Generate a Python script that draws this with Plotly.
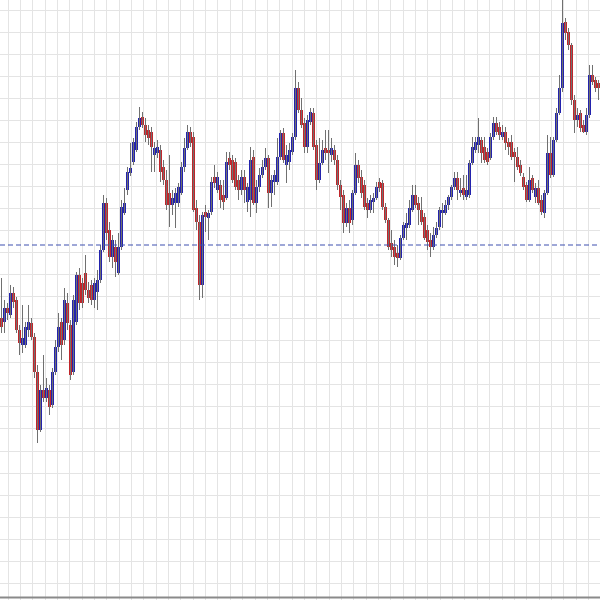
import plotly.graph_objects as go

# Candle data (price units), one entry per bar, left to right
opens = [282,278,292,285,307,300,270,255,255,270,277,263,228,170,210,202,210,195,228,253,
         278,260,297,275,228,278,325,317,327,310,315,300,308,320,350,397,370,343,353,327,
         353,387,410,427,438,450,473,483,475,470,468,445,447,450,433,420,407,395,397,397,
         407,433,452,468,463,392,378,315,388,382,388,423,410,415,405,402,442,440,438,420,
         410,423,398,400,443,397,413,425,433,442,407,418,418,443,467,435,438,448,463,512,
         490,477,453,478,487,455,420,437,452,450,445,450,440,415,405,377,392,380,407,435,
         423,415,397,390,398,402,418,417,393,380,357,353,347,342,362,372,375,390,405,397,
         390,383,370,360,353,365,373,387,387,395,403,413,422,407,412,403,405,437,450,455,
         460,453,448,442,463,477,473,463,468,458,458,448,443,435,423,415,400,422,403,412,
         400,387,407,447,425,460,487,512,578,568,555,500,480,487,475,468,485,525,520,517]
highs = [322,300,297,315,313,303,275,295,278,295,282,267,235,215,245,222,215,232,260,287,
         282,312,307,280,305,328,332,322,345,318,320,322,330,355,405,402,378,365,360,367,
         400,412,433,457,462,478,493,488,482,475,473,458,460,455,440,430,445,410,412,417,
         438,462,475,473,468,400,385,388,395,390,423,435,428,420,420,448,448,445,442,425,
         430,430,417,453,450,420,432,440,452,445,425,430,462,470,472,455,457,467,530,518,
         502,482,485,492,492,460,462,460,470,470,462,455,445,420,410,397,400,410,447,440,
         430,420,402,405,407,418,422,420,397,382,370,360,355,365,378,387,400,415,415,403,
         403,387,375,367,373,378,393,397,400,405,415,428,428,422,425,425,440,463,463,482,
         463,463,452,467,483,483,478,475,473,462,465,452,453,440,427,418,433,425,417,420,
         405,410,465,463,463,492,525,600,582,572,557,505,492,490,480,492,535,535,523,520]
lows = [267,267,280,282,292,267,245,247,252,263,260,222,157,168,198,198,185,192,225,248,
        240,255,270,220,225,275,290,292,305,297,295,292,290,317,348,360,338,332,323,325,
        350,385,405,424,435,448,470,472,458,455,428,428,442,418,415,390,373,385,372,393,
        405,428,450,453,388,370,300,302,368,360,385,412,407,392,390,400,430,417,410,400,
        405,397,388,383,395,387,408,422,430,392,393,405,415,440,437,417,430,445,460,487,
        472,447,447,475,450,410,417,435,440,427,438,435,410,390,367,373,367,375,405,417,
        402,390,382,387,387,400,408,390,377,350,343,335,333,340,360,360,372,388,392,375,
        375,360,350,343,350,362,370,372,385,390,400,410,400,403,400,400,402,435,447,447,
        437,437,435,440,460,465,460,460,450,445,440,418,430,424,410,398,398,407,397,395,
        385,382,405,422,423,458,485,508,560,550,495,467,473,468,467,465,482,515,508,500]
closes = [273,292,287,307,298,270,257,262,273,278,263,228,170,210,202,212,193,228,253,273,
          255,300,277,225,300,325,297,297,310,302,300,317,320,350,397,367,343,360,338,353,
          393,397,428,432,458,473,482,475,465,462,453,452,453,428,420,395,395,402,407,413,
          433,452,468,457,390,378,315,385,383,387,418,417,423,400,398,438,435,420,413,410,
          423,410,413,440,397,413,425,433,442,407,420,425,443,467,440,445,450,463,512,490,
          475,453,480,488,453,420,437,450,447,447,452,440,415,403,377,392,377,407,435,422,
          407,393,390,400,402,413,412,393,380,353,350,343,342,362,375,377,392,405,395,390,
          378,362,358,353,365,372,390,390,395,403,413,422,410,410,405,410,437,453,458,463,
          447,440,438,463,477,468,465,468,457,453,443,443,433,427,413,400,420,410,412,397,
          388,407,447,425,460,487,512,577,567,555,500,480,485,472,468,485,525,518,512,512]
reference_level = 355

n = len(opens)
idx = list(range(n))

up_color = "#2323ad"
down_color = "#c0262b"
wick_color = "#707070"

# wicks
wx, wy = [], []
for i in idx:
    wx += [i, i, None]
    wy += [lows[i], highs[i], None]

bases = [min(o, c) for o, c in zip(opens, closes)]
heights = [max(abs(c - o), 1.5) for o, c in zip(opens, closes)]
colors = [up_color if c >= o else down_color for o, c in zip(opens, closes)]

fig = go.Figure()
fig.add_trace(go.Scatter(x=wx, y=wy, mode="lines",
                         line=dict(color=wick_color, width=1),
                         hoverinfo="skip", showlegend=False))
fig.add_trace(go.Bar(x=idx, y=heights, base=bases, width=0.8,
                     marker=dict(color=colors, line=dict(width=0)),
                     showlegend=False))

fig.add_hline(y=reference_level, line=dict(color="#3f50b0", width=1.2, dash="5px,3px"))
fig.add_hline(y=2.5, line=dict(color="#8a8a8a", width=2))

fig.update_layout(
    width=600, height=600,
    margin=dict(l=0, r=0, t=0, b=0),
    plot_bgcolor="white", paper_bgcolor="white",
    bargap=0, showlegend=False,
)
fig.update_xaxes(range=[-0.5, n - 0.5], showticklabels=False, zeroline=False,
                 showgrid=True, gridcolor="#e4e4e4", gridwidth=1,
                 tick0=2.167, dtick=4.117, ticks="")
fig.update_yaxes(range=[0, 600], showticklabels=False, zeroline=False,
                 showgrid=True, gridcolor="#e4e4e4", gridwidth=1,
                 tick0=590, dtick=22.05, ticks="")

fig.write_html("out.html", config={"displayModeBar": False},
               post_script="document.body.style.margin='0';document.body.style.overflow='hidden';")
